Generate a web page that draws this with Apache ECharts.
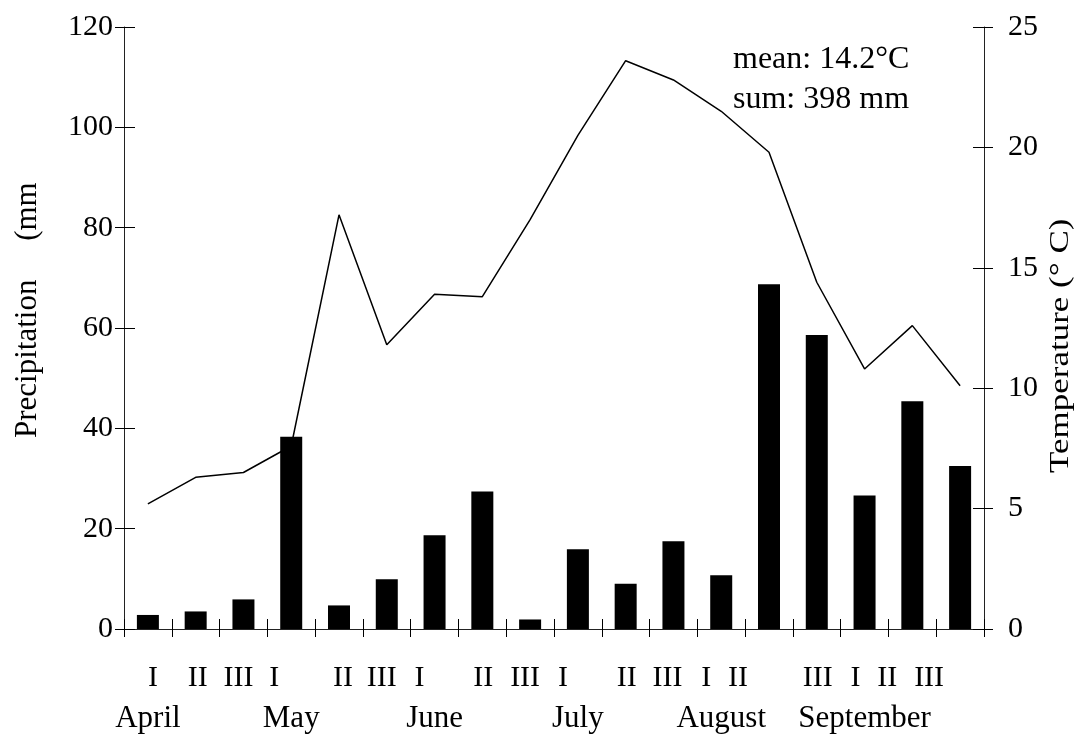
<!DOCTYPE html>
<html>
<head>
<meta charset="utf-8">
<script src="https://cdn.jsdelivr.net/npm/echarts@6/dist/echarts.min.js"></script>
<style>
  html, body { margin: 0; padding: 0; background: #fff; }
  #chart { width: 1083px; height: 735px; }
</style>
</head>
<body>
<div id="chart"></div>
<script>
// Ten-day periods (dekads) of the growing season
const months = ['April', 'May', 'June', 'July', 'August', 'September'];
const dekads = ['I', 'II', 'III'];

// Dekad precipitation totals (mm)
const precipitation = [2.8, 3.5, 5.9, 38.3, 4.7, 9.9, 18.7, 27.4, 1.9, 15.9, 9.0, 17.5, 10.7, 68.7, 58.6, 26.6, 45.4, 32.5];
// Dekad mean air temperature (°C)
const temperature = [5.2, 6.3, 6.5, 7.6, 17.2, 11.8, 13.9, 13.8, 17.0, 20.5, 23.6, 22.8, 21.5, 19.8, 14.4, 10.8, 12.6, 10.1];

// Axis tick settings
const precipTicks = { min: 0, max: 120, interval: 20 };
const tempTicks = { min: 0, max: 25, interval: 5 };

// Category keys "Month Dekad"
const categories = [];
months.forEach(m => dekads.forEach(d => categories.push(m + ' ' + d)));

// Horizontal nudges (px) of the dekad labels under the axis
const dekadLabelNudge = [5, 2, -5, -17, 4, -5, -15, 1, -5, -15, 1, -6, -15, -31, 1, -9, -25, -31];

const FONT = '"Liberation Serif", "Times New Roman", serif';
const INK = '#000';

const dekadRich = {};
dekadLabelNudge.forEach((s, i) => {
  dekadRich['d' + i] = {
    fontFamily: FONT, fontSize: 30, color: INK, lineHeight: 30,
    padding: [0, s < 0 ? -2 * s : 0, 0, s > 0 ? 2 * s : 0]
  };
});

const sum = precipitation.reduce((a, b) => a + b, 0);
const mean = temperature.reduce((a, b) => a + b, 0) / temperature.length;

const chart = echarts.init(document.getElementById('chart'), null, { renderer: 'canvas' });

const axisLineStyle = { show: true, lineStyle: { color: '#222', width: 1 } };
const tickStyle = { color: INK, width: 1 };

chart.setOption({
  animation: false,
  backgroundColor: '#fff',
  grid: { left: 124, right: 99, top: 27, bottom: 106, containLabel: false, outerBoundsMode: 'none' },
  xAxis: [
    {
      type: 'category', position: 'bottom', data: categories, boundaryGap: true,
      axisLine: axisLineStyle,
      axisTick: { show: true, inside: true, length: 10, interval: 0, lineStyle: tickStyle },
      axisLabel: {
        interval: 0, hideOverlap: false, margin: 34,
        formatter: (value, index) => '{d' + index + '|' + value.split(' ')[1] + '}',
        rich: dekadRich
      },
      splitLine: { show: false }
    },
    {
      type: 'category', position: 'bottom', data: categories, boundaryGap: true,
      axisLine: { show: false },
      axisTick: { show: true, inside: false, length: 8, interval: 0, lineStyle: tickStyle },
      axisLabel: {
        interval: 0, hideOverlap: false, margin: 74,
        fontFamily: FONT, fontSize: 31, color: INK, lineHeight: 31,
        formatter: (value, index) => index % 3 === 0 ? value.split(' ')[0] : ''
      },
      splitLine: { show: false }
    }
  ],
  yAxis: [
    {
      type: 'value', position: 'left', ...precipTicks,
      axisLine: axisLineStyle,
      axisTick: { show: true, inside: true, length: 11, lineStyle: tickStyle },
      axisLabel: { fontFamily: FONT, fontSize: 30, color: INK, margin: 11 },
      splitLine: { show: false }
    },
    {
      type: 'value', position: 'right', ...tempTicks,
      axisLine: axisLineStyle,
      axisTick: { show: true, inside: true, length: 11, lineStyle: tickStyle },
      axisLabel: { fontFamily: FONT, fontSize: 30, color: INK, margin: 24 },
      splitLine: { show: false }
    },
    {
      type: 'value', position: 'left', ...precipTicks,
      axisLine: { show: false },
      axisTick: { show: true, inside: false, length: 9, lineStyle: tickStyle },
      axisLabel: { show: false },
      splitLine: { show: false }
    },
    {
      type: 'value', position: 'right', ...tempTicks,
      axisLine: { show: false },
      axisTick: { show: true, inside: false, length: 9, lineStyle: tickStyle },
      axisLabel: { show: false },
      splitLine: { show: false }
    }
  ],
  series: [
    {
      name: 'Temperature', type: 'line', xAxisIndex: 0, yAxisIndex: 1,
      data: temperature, showSymbol: false, symbol: 'none', z: 1,
      lineStyle: { color: INK, width: 1.5 }
    },
    {
      name: 'Precipitation', type: 'bar', xAxisIndex: 0, yAxisIndex: 0,
      data: precipitation, barWidth: 22, z: 2,
      itemStyle: { color: INK }
    }
  ],
  graphic: [
    {
      type: 'text', left: 733, top: 44, z: 10,
      style: { text: 'mean: ' + mean.toFixed(1) + '°C', font: '32px ' + FONT, fill: INK }
    },
    {
      type: 'text', left: 733, top: 84, z: 10,
      style: { text: 'sum: ' + Math.round(sum) + ' mm', font: '32px ' + FONT, fill: INK }
    },
    {
      type: 'text', x: 28, y: 438, rotation: Math.PI / 2, z: 10,
      style: { text: 'Precipitation     (mm', font: '31px ' + FONT, fill: INK, align: 'left', verticalAlign: 'middle' }
    },
    {
      type: 'text', x: 1061, y: 473, rotation: Math.PI / 2, scaleX: 1.25, z: 10,
      style: { text: 'Temperature (° C)', font: '28px ' + FONT, fill: INK, align: 'left', verticalAlign: 'middle' }
    }
  ]
});
</script>
</body>
</html>
